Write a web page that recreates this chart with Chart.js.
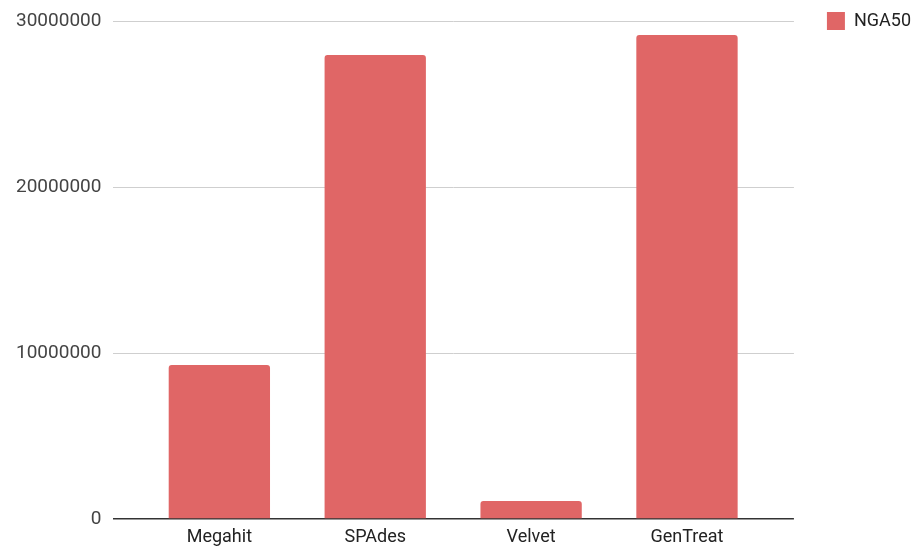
<!DOCTYPE html>
<html>
<head>
<meta charset="utf-8">
<script src="https://cdn.jsdelivr.net/npm/chart.js@4/dist/chart.umd.min.js"></script>
<style>
  html, body { margin: 0; padding: 0; background: #fff; }
  #wrap { width: 924px; height: 549px; }
</style>
</head>
<body>
<div id="wrap"><canvas id="nga50Chart" width="924" height="549"></canvas></div>
<script>
// Data
const assemblers = ['Megahit', 'SPAdes', 'Velvet', 'GenTreat'];
const nga50 = [9280000, 27950000, 1080000, 29160000];
const yTicks = [0, 10000000, 20000000, 30000000];

const barColor = '#e06666';

// Sheets-style chart: gridlines span the full plot, bars sit inset from both sides,
// and the legend floats a bit away from the plot area
const sheetsLayout = {
  id: 'sheetsLayout',
  afterLayout(chart) {
    const x = chart.scales.x;
    x.left += 28;
    x.right -= 29;
    x.width = x.right - x.left;
    x.configure();

    const lg = chart.legend;
    lg.left += 21;
    lg.right += 21;
  }
};

const ctx = document.getElementById('nga50Chart').getContext('2d');

window.nga50Chart = new Chart(ctx, {
  type: 'bar',
  data: {
    labels: assemblers,
    datasets: [{
      label: 'NGA50',
      data: nga50,
      backgroundColor: barColor,
      borderWidth: 0,
      borderRadius: 3,
      borderSkipped: 'bottom',
      categoryPercentage: 1,
      barPercentage: 0.65
    }]
  },
  options: {
    responsive: false,
    animation: false,
    layout: { padding: { top: 0, left: 4, right: 24, bottom: 0 } },
    plugins: {
      tooltip: { enabled: false },
      legend: {
        position: 'right',
        align: 'start',
        labels: {
          boxWidth: 18,
          boxHeight: 18,
          padding: 12,
          color: '#222',
          font: { family: 'Roboto', size: 18 }
        }
      }
    },
    scales: {
      x: {
        grid: { display: false, drawTicks: false },
        border: { display: false },
        afterFit(axis) {
          axis.height = 30;
        },
        ticks: {
          color: '#222',
          padding: 8,
          font: { family: 'Roboto', size: 18 }
        }
      },
      y: {
        min: 0,
        max: 30000000,
        afterBuildTicks(axis) {
          axis.ticks = yTicks.map(v => ({ value: v }));
        },
        afterFit(axis) {
          axis.paddingTop = 21;
          axis.paddingBottom = 0;
        },
        grid: {
          drawTicks: false,
          color: (c) => c.tick && c.tick.value === 0 ? '#333' : '#cfcfcf',
          lineWidth: (c) => c.tick && c.tick.value === 0 ? 1.5 : 1
        },
        border: { display: false },
        ticks: {
          color: '#444',
          padding: 12,
          callback: (v) => String(v),
          font: { family: 'Roboto', size: 19 }
        }
      }
    }
  },
  plugins: [sheetsLayout]
});
</script>
</body>
</html>
